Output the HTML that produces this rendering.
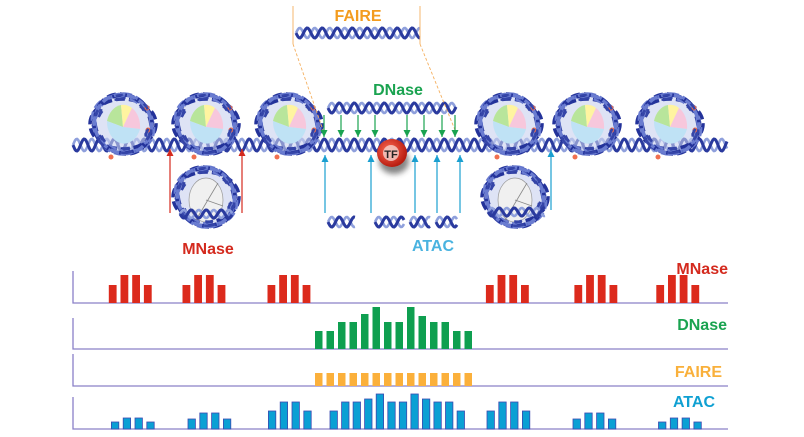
<!DOCTYPE html>
<html><head><meta charset="utf-8"><style>
html,body{margin:0;padding:0;background:#fff;width:804px;height:437px;overflow:hidden}
svg{display:block}
text{font-family:"Liberation Sans",sans-serif;font-weight:bold}
</style></head><body>
<svg id="s" width="804" height="437" viewBox="0 0 804 437" xmlns="http://www.w3.org/2000/svg">
<defs>
<marker id="mg" viewBox="0 0 10 10" refX="10" refY="5" markerWidth="7" markerHeight="7" orient="auto" markerUnits="userSpaceOnUse"><path d="M0,0 L10,5 L0,10 z" fill="#1aa350"/></marker>
<marker id="mr" viewBox="0 0 10 10" refX="10" refY="5" markerWidth="7" markerHeight="7" orient="auto" markerUnits="userSpaceOnUse"><path d="M0,0 L10,5 L0,10 z" fill="#d42a1e"/></marker>
<marker id="mb" viewBox="0 0 10 10" refX="10" refY="5" markerWidth="7" markerHeight="7" orient="auto" markerUnits="userSpaceOnUse"><path d="M0,0 L10,5 L0,10 z" fill="#1a9fd0"/></marker>
<radialGradient id="tf" cx="40%" cy="40%" r="60%"><stop offset="0" stop-color="#ff6a55"/><stop offset="1" stop-color="#b81c10"/></radialGradient>
<filter id="sh" x="-50%" y="-50%" width="200%" height="200%"><feGaussianBlur stdDeviation="3"/></filter>
</defs>
<g id="g"></g>
<text x="358" y="21" font-size="16" fill="#f39c1f" text-anchor="middle">FAIRE</text>
<text x="398" y="95" font-size="16" fill="#1aa350" text-anchor="middle">DNase</text>
<text x="433" y="251" font-size="16" fill="#4ab3e0" text-anchor="middle">ATAC</text>
<text x="208" y="254" font-size="16" fill="#d42a1e" text-anchor="middle">MNase</text>
<text x="728" y="274" font-size="16" fill="#d42a1e" text-anchor="end">MNase</text>
<text x="727" y="330" font-size="16" fill="#1aa350" text-anchor="end">DNase</text>
<text x="722" y="377" font-size="16" fill="#f9b03b" text-anchor="end">FAIRE</text>
<text x="715" y="407" font-size="16" fill="#0fa0d2" text-anchor="end">ATAC</text>
</svg>
<script>
var g=document.getElementById('g'),h='';
function helix(x1,x2,y,a){var p1='',p2='';for(var x=x1;x<=x2;x+=1){var t=(x-x1)/15*2*Math.PI;var y1=y+a*Math.sin(t),y2=y-a*Math.sin(t);p1+=(x==x1?'M':'L')+x+','+y1.toFixed(1);p2+=(x==x1?'M':'L')+x+','+y2.toFixed(1);}
h+='<path d="'+p2+'" stroke="#8fa0dc" stroke-width="2.6" fill="none"/><path d="'+p1+'" stroke="#2a3a9e" stroke-width="3" fill="none"/>';}
function nuc(cx,cy,gray){
h+='<ellipse cx="'+cx+'" cy="'+(cy-1)+'" rx="31" ry="28" fill="#c8d0ee" opacity="0.6"/>';
for(var i=0;i<6;i++){var r=i*30;h+='<ellipse cx="'+cx+'" cy="'+(cy-1)+'" rx="'+(33-i)+'" ry="'+(25+i)+'" transform="rotate('+r+' '+cx+' '+(cy-1)+')" fill="none" stroke="'+(i%2?'#6a7cd0':'#23329a')+'" stroke-width="3.5" stroke-dasharray="9 4"/>';}
var X=cx,Y=cy+2;
if(gray){h+='<ellipse cx="'+X+'" cy="'+Y+'" rx="17" ry="22" fill="#f0f0f0" stroke="#999" stroke-width="0.7"/><path d="M'+(X-10)+','+(Y+20)+' L'+(X+12)+','+(Y-17)+' M'+X+','+Y+' L'+(X+17)+','+(Y+6)+'" stroke="#888" stroke-width="0.8"/>';}
else{h+='<path d="M'+X+','+Y+' L'+(X-16)+','+(Y-6)+' A17,22 0 0 1 '+(X-2)+','+(Y-22)+'z" fill="#b8e59b"/>'+
'<path d="M'+X+','+Y+' L'+(X-2)+','+(Y-22)+' A17,22 0 0 1 '+(X+9)+','+(Y-19)+'z" fill="#fff4a0"/>'+
'<path d="M'+X+','+Y+' L'+(X+9)+','+(Y-19)+' A17,22 0 0 1 '+(X+17)+','+(Y+2)+'z" fill="#f7c7dc"/>'+
'<path d="M'+X+','+Y+' L'+(X+17)+','+(Y+2)+' A17,22 0 0 1 '+(X-16)+','+(Y-6)+'z" fill="#bfe2f5"/>';
h+='<circle cx="'+(cx+24)+'" cy="'+(cy-17)+'" r="2.5" fill="#f07050"/><circle cx="'+(cx+25)+'" cy="'+(cy+5)+'" r="2.5" fill="#f07050"/><circle cx="'+(cx-12)+'" cy="'+(cy+32)+'" r="2.5" fill="#f07050"/>';}
for(var i=0;i<3;i++){var r=i*60+20;h+='<ellipse cx="'+cx+'" cy="'+(cy-1)+'" rx="29" ry="24" transform="rotate('+r+' '+cx+' '+(cy-1)+')" fill="none" stroke="#3545a8" stroke-width="2.5" stroke-dasharray="7 20"/>';}
}
helix(73,727,145,6);
[123,206,289,509,587,670].forEach(function(x){nuc(x,125,false)});
nuc(206,198,true);nuc(515,198,true);
helix(180,232,214,4);helix(488,545,212,4);
helix(328,456,108,5);helix(296,420,33,5);
helix(328,355,222,5);helix(375,404,222,5);helix(410,430,222,5);helix(436,457,222,5);
h+='<g stroke="#f5b060" stroke-width="0.9" fill="none"><path d="M293,6V44M420,6V44"/><path d="M293,44L323,130M420,44L455,130" stroke-dasharray="3 2"/></g>';
function arr(x,y1,y2,m,c){h+='<line x1="'+x+'" y1="'+y1+'" x2="'+x+'" y2="'+y2+'" stroke="'+c+'" stroke-width="1.2" marker-end="url(#'+m+')"/>';}
[324,341,358,375,407,424,442,455].forEach(function(x){arr(x,115,137,'mg','#1aa350')});
arr(170,213,149,'mr','#d42a1e');arr(242,213,149,'mr','#d42a1e');
[325,371,415,437,460].forEach(function(x){arr(x,213,155,'mb','#1a9fd0')});arr(551,210,150,'mb','#1a9fd0');
h+='<ellipse cx="394" cy="161" rx="15" ry="13" fill="#333" opacity="0.6" filter="url(#sh)"/><ellipse cx="392" cy="153" rx="15" ry="14" fill="url(#tf)"/><circle cx="391" cy="153" r="8" fill="#f5d5d0" opacity="0.8"/><text x="391" y="158" font-size="11" fill="#222" text-anchor="middle">TF</text>';
function axis(top,base){h+='<path d="M73,'+top+'V'+base+'H728" stroke="#8a80c8" stroke-width="1.3" fill="none"/>';}
axis(271,303);axis(318,349);axis(354,386);axis(397,429);
function bars(x0,pitch,w,tops,base,c,st){tops.forEach(function(t,i){h+='<rect x="'+(x0+i*pitch).toFixed(1)+'" y="'+t+'" width="'+w+'" height="'+(base-t)+'" fill="'+c+'"'+(st?' stroke="'+st+'" stroke-width="0.8"':'')+'/>';});}
[108.8,182.5,267.5,485.9,574.4,656.3].forEach(function(x){bars(x,11.7,7.8,[285,275,275,285],303,'#dc2a1c')});
bars(315,11.5,7.5,[331,331,322,322,314,307,322,322,307,316,322,322,331,331],349,'#0f9f50');
bars(315,11.5,7.5,[373,373,373,373,373,373,373,373,373,373,373,373,373,373],386,'#fbb03b');
var A='#0aa0d4',S='#3b4ab0';
bars(111.4,11.8,7.4,[422,418,418,422],429,A,S);
bars(188,11.8,7.4,[419,413,413,419],429,A,S);
bars(268.4,11.8,7.4,[411,402,402,411],429,A,S);
bars(330,11.55,7.4,[411,402,402,399,394,402,402,394,399,402,402,411],429,A,S);
bars(487,11.8,7.4,[411,402,402,411],429,A,S);
bars(573,11.8,7.4,[419,413,413,419],429,A,S);
bars(658.5,11.8,7.4,[422,418,418,422],429,A,S);
g.innerHTML=h;
</script>
</body></html>
